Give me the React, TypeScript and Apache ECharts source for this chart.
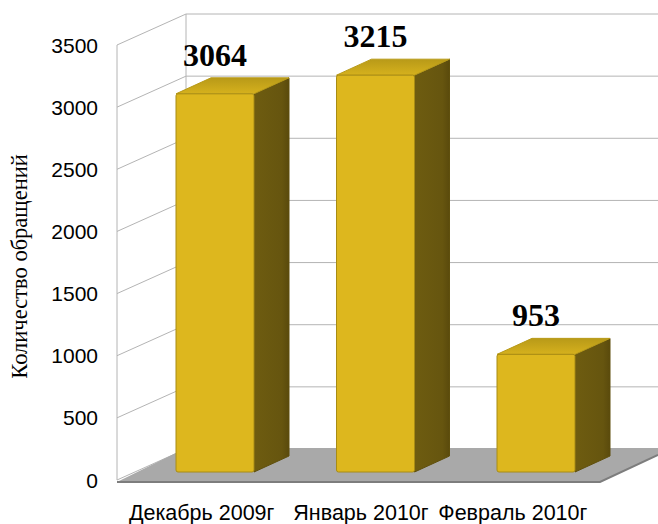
import React, { useEffect, useRef } from "react";
import * as echarts from "echarts";

const categories = ["Декабрь 2009г", "Январь 2010г", "Февраль 2010г"];
const values = [3064, 3215, 953];
const gridTicks = [0, 500, 1000, 1500, 2000, 2500, 3000, 3500];
const axisTitle = "Количество обращений";

const W = 658;
const H = 524;

export default function App() {
  const ref = useRef<HTMLDivElement>(null);
  useEffect(() => {
    document.body.style.margin = "0";
    const chart = echarts.init(ref.current!, undefined, { renderer: "svg", width: W, height: H });
    const wallLine = { stroke: "#b4b4b4", lineWidth: 1, fill: "none" };
    const lab = { fontFamily: "Liberation Sans", fontSize: 21.5, color: "#000" };
    const option: any = {
      animation: false,
      backgroundColor: "#fff",
      grid: [
        { left: 117, top: 45, width: 483, height: 437 },
        { left: 134.75, top: 40, width: 481.5, height: 432 },
      ],
      xAxis: [
        {
          type: "category",
          gridIndex: 0,
          data: categories,
          axisLine: { show: false },
          axisTick: { show: false },
          axisLabel: {
            margin: 22,
            ...lab,
            interval: 0,
            formatter: (v: string, i: number) => `{l${i}|${v}}`,
            rich: {
              l0: { ...lab, padding: [0, 0, 0, 0] },
              l1: { ...lab, padding: [0, 0, 0, 0] },
              l2: { ...lab, padding: [0, 15, 0, 0] },
            },
          },
        },
        { type: "category", gridIndex: 1, data: categories, show: false },
      ],
      yAxis: [
        {
          type: "value",
          gridIndex: 0,
          min: 0,
          max: 3500,
          interval: 500,
          name: axisTitle,
          nameLocation: "middle",
          nameGap: 91,
          nameTextStyle: { fontFamily: "Liberation Serif", fontSize: 22.5, color: "#000", padding: [0, 8, 0, 0] },
          axisLine: { show: false },
          axisTick: { show: false },
          splitLine: { show: false },
          axisLabel: {
            margin: 24,
            fontFamily: "Liberation Sans",
            fontSize: 21,
            color: "#000",
            padding: [6, 0, 0, 0],
            formatter: (v: number) => String(v),
          },
        },
        { type: "value", gridIndex: 1, min: 0, max: 3500, interval: 500, show: false, splitLine: { show: false } },
      ],
      series: [
        {
          type: "custom",
          coordinateSystem: "cartesian2d",
          xAxisIndex: 0,
          yAxisIndex: 0,
          silent: true,
          z: 1,
          clip: false,
          data: gridTicks.map((t) => [0, t]),
          renderItem: (params: any, api: any) => {
            const y = api.coord([0, api.value(1)])[1];
            const children: any[] = [
              { type: "polyline", shape: { points: [[117, y], [186, y - 31], [658, y - 31]] }, style: wallLine },
            ];
            if (params.dataIndex === gridTicks.length - 1) {
              const y0 = api.coord([0, 0])[1];
              children.push({ type: "line", shape: { x1: 117, y1: y, x2: 117, y2: y0 }, style: wallLine });
              children.push({ type: "line", shape: { x1: 186, y1: y - 31, x2: 186, y2: y0 - 31 }, style: wallLine });
            }
            if (params.dataIndex === 0) {
              children.push({
                type: "polygon",
                shape: { points: [[117, y + 2], [186, y - 32], [658, y - 32], [658, y - 25], [600, y + 2]] },
                style: { fill: "#a9a9a9", stroke: "none" },
                z2: 5,
              });
              children.push({
                type: "polyline",
                shape: { points: [[117, y + 2], [600, y + 2], [658, y - 25]] },
                style: { stroke: "#7d7d7d", lineWidth: 2, fill: "none" },
                z2: 6,
              });
            }
            return { type: "group", children };
          },
        },
        {
          type: "custom",
          coordinateSystem: "cartesian2d",
          xAxisIndex: 1,
          yAxisIndex: 1,
          silent: true,
          z: 3,
          clip: false,
          data: values.map((v, i) => [i, v]),
          renderItem: (_params: any, api: any) => {
            const v = api.value(1);
            const c = api.coord([api.value(0), v]);
            const base = api.coord([api.value(0), 0])[1];
            const half = 39;
            const dx = 35;
            const dy = 16;
            const xl = c[0] - half;
            const xr = c[0] + half;
            const yt = c[1];
            return {
              type: "group",
              children: [
                {
                  type: "polygon",
                  shape: { points: [[xr, yt], [xr + dx, yt - dy], [xr + dx, base - dy], [xr, base]] },
                  style: {
                    fill: new echarts.graphic.LinearGradient(0, 0, 1, 0, [
                      { offset: 0, color: "#6e5c10" },
                      { offset: 0.8, color: "#66550f" },
                      { offset: 1, color: "#5a4a0c" },
                    ]),
                    stroke: "#5f4f0d",
                    lineWidth: 1,
                    lineJoin: "round",
                  },
                },
                {
                  type: "polygon",
                  shape: { points: [[xl, yt], [xl + dx, yt - dy], [xr + dx, yt - dy], [xr, yt]] },
                  style: {
                    fill: new echarts.graphic.LinearGradient(0, 0, 0, 1, [
                      { offset: 0, color: "#b89a18" },
                      { offset: 1, color: "#d6b11d" },
                    ]),
                    stroke: "#b89a18",
                    lineWidth: 1,
                    lineJoin: "round",
                  },
                },
                {
                  type: "rect",
                  shape: { x: xl, y: yt, width: half * 2, height: base - yt, r: 2 },
                  style: { fill: "#ddb71e", stroke: "#a88c14", lineWidth: 1 },
                },
                {
                  type: "text",
                  style: {
                    text: String(v),
                    x: c[0],
                    y: yt - 23,
                    align: "center",
                    verticalAlign: "bottom",
                    fontFamily: "Liberation Serif",
                    fontWeight: "bold",
                    fontSize: 32,
                    fill: "#000",
                  },
                },
              ],
            };
          },
        },
      ],
    };
    chart.setOption(option);
    return () => chart.dispose();
  }, []);
  return <div ref={ref} style={{ width: W, height: H }} />;
}
